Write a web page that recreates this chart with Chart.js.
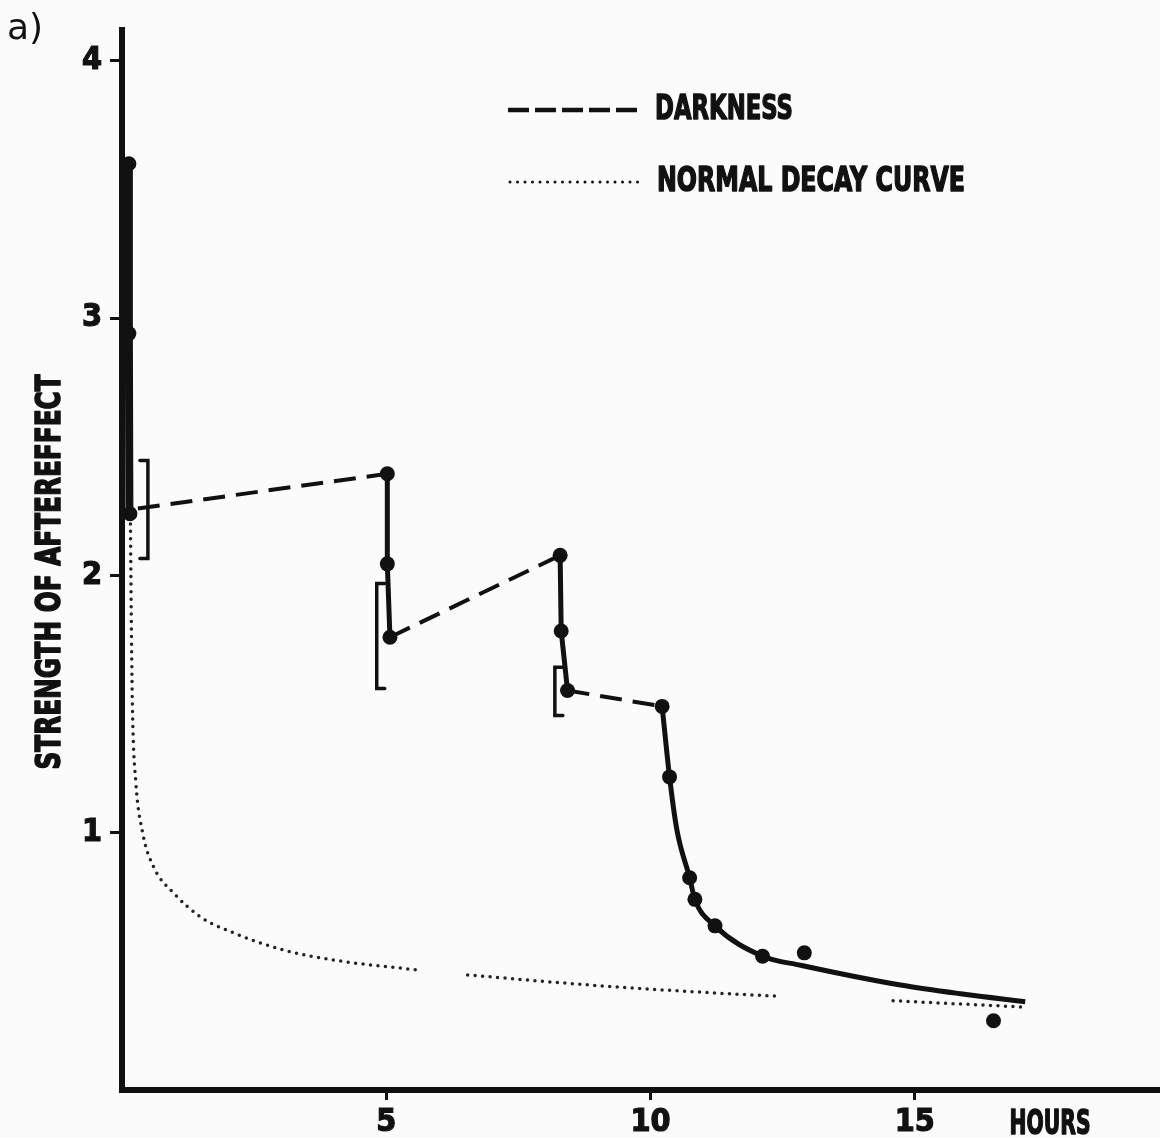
<!DOCTYPE html>
<html>
<head>
    <title>Strength of aftereffect</title>
    <script src="https://cdn.jsdelivr.net/npm/chart.js"></script>
    <style>
        html, body {
            margin: 0;
            padding: 0;
            background: #fbfbfb;
        }
        .chart-box {
            position: relative;
            width: 1160px;
            height: 1138px;
        }
    </style>
</head>
<body>
    <div class="chart-box">
        <canvas id="afterChart" width="1160" height="1138"></canvas>
    </div>

    <script>
        // solid runs (light periods), hours / strength
        const lightSegX = [
            [0.13, 0.13, 0.14],
            [5.02, 5.02, 5.07],
            [8.29, 8.31, 8.43],
            [10.22, 10.36, 10.50, 10.74, 10.84, 11.22, 12.12, 12.84, 14.73, 15.9, 17.09]
        ];
        const lightSegY = [
            [3.60, 2.94, 2.24],
            [2.395, 2.045, 1.76],
            [2.078, 1.784, 1.553],
            [1.491, 1.217, 1.01, 0.825, 0.741, 0.638, 0.520, 0.485, 0.408, 0.373, 0.343]
        ];

        // dashed runs (darkness)
        const darkSegX = [[0.30, 5.02], [5.07, 8.29], [8.43, 10.22]];
        const darkSegY = [[2.26, 2.395], [1.76, 2.078], [1.553, 1.491]];

        // normal decay curve, dotted, with the gaps it has
        const decayRunX = [
            [0.16, 0.18, 0.20, 0.26, 0.39, 0.60, 0.98, 1.49, 2.12, 3.06, 4.01, 5.60],
            [6.54, 9.05, 11.57, 12.46],
            [14.59, 17.09]
        ];
        const decayRunY = [
            [2.20, 1.75, 1.46, 1.20, 1.00, 0.866, 0.765, 0.672, 0.610, 0.544, 0.505, 0.466],
            [0.447, 0.405, 0.373, 0.364],
            [0.347, 0.322]
        ];

        // measured points
        const pointX = [0.13, 0.13, 0.15, 5.02, 5.02, 5.07, 8.29, 8.31, 8.43,
                        10.22, 10.36, 10.74, 10.84, 11.22, 12.12, 12.91, 16.49];
        const pointY = [3.60, 2.94, 2.24, 2.395, 2.045, 1.76, 2.078, 1.784, 1.553,
                        1.491, 1.217, 0.825, 0.741, 0.638, 0.520, 0.533, 0.269];

        // range brackets
        const bracketX = [0.49, 4.82, 8.19];
        const bracketLow = [2.066, 1.561, 1.456];
        const bracketHigh = [2.447, 1.969, 1.643];

        // axes
        const xTickValues = [5, 10, 15];
        const yTickValues = [1, 2, 3, 4];
        const xUnit = 'HOURS';
        const yTitle = 'STRENGTH OF AFTEREFFECT';
        const legendLabels = ['DARKNESS', 'NORMAL DECAY CURVE'];
        const panelTag = 'a)';

        const INK = '#111';
        const NARROW = "'Liberation Sans Narrow', 'DejaVu Sans Condensed', 'Liberation Sans', sans-serif";
        const HEAVY = "'DejaVu Sans', 'Liberation Sans', sans-serif";

        const toPoints = (xs, ys) => xs.map((x, i) => ({ x: x, y: ys[i] }));

        const datasets = [];

        lightSegX.forEach((xs, i) => {
            const isCurve = i === lightSegX.length - 1;
            datasets.push({
                data: toPoints(xs, lightSegY[i]),
                showLine: true,
                borderColor: INK,
                borderWidth: i === 0 ? 8 : 5,
                pointRadius: 0,
                cubicInterpolationMode: isCurve ? 'monotone' : 'default',
                clip: false
            });
        });

        darkSegX.forEach((xs, i) => {
            datasets.push({
                data: toPoints(xs, darkSegY[i]),
                showLine: true,
                borderColor: INK,
                borderWidth: 4,
                borderDash: [22, 11],
                pointRadius: 0,
                clip: false
            });
        });

        decayRunX.forEach((xs, i) => {
            datasets.push({
                data: toPoints(xs, decayRunY[i]),
                showLine: true,
                borderColor: '#222',
                borderWidth: 3.5,
                borderDash: [0, 7.5],
                borderCapStyle: 'round',
                pointRadius: 0,
                cubicInterpolationMode: 'monotone',
                clip: false
            });
        });

        datasets.push({
            data: toPoints(pointX, pointY),
            showLine: false,
            pointRadius: 7.5,
            pointBackgroundColor: INK,
            pointBorderColor: INK,
            pointBorderWidth: 0,
            clip: false
        });

        // heavy caps squeezed to a given width
        function fitText(ctx, text, x, y, width, size, angle, align) {
            ctx.save();
            ctx.font = 'bold ' + size + 'px ' + HEAVY;
            const w = ctx.measureText(text).width;
            ctx.translate(x, y);
            ctx.rotate(angle || 0);
            ctx.scale(width / w, 1);
            ctx.textAlign = align || 'left';
            ctx.textBaseline = 'middle';
            ctx.fillStyle = INK;
            ctx.strokeStyle = INK;
            ctx.lineWidth = 1.6;
            ctx.lineJoin = 'round';
            ctx.strokeText(text, 0, 0);
            ctx.fillText(text, 0, 0);
            ctx.restore();
        }

        const decorations = {
            id: 'decorations',
            afterDatasetsDraw(chart) {
                const ctx = chart.ctx;
                const xs = chart.scales.x;
                const ys = chart.scales.y;
                const area = chart.chartArea;

                // brackets: first opens left, the others right
                const sides = [-1, 1, 1];
                ctx.save();
                ctx.strokeStyle = INK;
                ctx.lineWidth = 3.5;
                ctx.lineCap = 'round';
                bracketX.forEach((bx, i) => {
                    const px = xs.getPixelForValue(bx);
                    const top = ys.getPixelForValue(bracketHigh[i]);
                    const bot = ys.getPixelForValue(bracketLow[i]);
                    const d = -sides[i] * 8;
                    ctx.beginPath();
                    ctx.moveTo(px - d, top);
                    ctx.lineTo(px, top);
                    ctx.lineTo(px, bot);
                    ctx.lineTo(px - d, bot);
                    ctx.stroke();
                });
                ctx.restore();

                // legend
                ctx.save();
                ctx.strokeStyle = INK;
                ctx.lineWidth = 4.5;
                ctx.setLineDash([21, 6]);
                ctx.beginPath();
                ctx.moveTo(508, 110);
                ctx.lineTo(640, 110);
                ctx.stroke();
                ctx.lineWidth = 3;
                ctx.lineCap = 'round';
                ctx.setLineDash([0, 7.5]);
                ctx.beginPath();
                ctx.moveTo(510, 182);
                ctx.lineTo(640, 182);
                ctx.stroke();
                ctx.restore();
                fitText(ctx, legendLabels[0], 655, 110, 138, 34);
                fitText(ctx, legendLabels[1], 657, 182, 308, 34);

                // axis titles
                fitText(ctx, yTitle, 51, 572, 395, 33, -Math.PI / 2, 'center');
                fitText(ctx, xUnit, 1050, area.bottom + 35, 81, 34, 0, 'center');

                // panel tag
                ctx.save();
                ctx.font = '36px "DejaVu Sans", sans-serif';
                ctx.fillStyle = INK;
                ctx.textBaseline = 'alphabetic';
                ctx.fillText(panelTag, 7, 39);
                ctx.restore();
            }
        };

        const tickFont = { family: NARROW, size: 32, weight: 'bold' };

        new Chart(document.getElementById('afterChart'), {
            type: 'scatter',
            data: { datasets: datasets },
            options: {
                responsive: false,
                animation: false,
                layout: {
                    autoPadding: false,
                    padding: { top: 30, right: 0, left: 0, bottom: 0 }
                },
                plugins: {
                    legend: { display: false },
                    tooltip: { enabled: false }
                },
                scales: {
                    x: {
                        type: 'linear',
                        min: 0,
                        max: 19.64,
                        afterBuildTicks: scale => {
                            scale.ticks = xTickValues.map(v => ({ value: v }));
                        },
                        afterFit: scale => { scale.height = 48; },
                        grid: {
                            drawOnChartArea: false,
                            tickLength: 10,
                            tickWidth: 3,
                            tickColor: INK
                        },
                        border: { display: true, width: 6, color: INK },
                        ticks: {
                            color: INK,
                            font: tickFont,
                            textStrokeColor: INK,
                            textStrokeWidth: 1.2,
                            padding: 3,
                            maxRotation: 0,
                            autoSkip: false
                        }
                    },
                    y: {
                        type: 'linear',
                        min: 0,
                        max: 4.12,
                        afterBuildTicks: scale => {
                            scale.ticks = yTickValues.map(v => ({ value: v }));
                        },
                        afterFit: scale => { scale.width = 122; },
                        grid: {
                            drawOnChartArea: false,
                            tickLength: 12,
                            tickWidth: 3,
                            tickColor: INK
                        },
                        border: { display: true, width: 6, color: INK },
                        ticks: {
                            color: INK,
                            font: tickFont,
                            textStrokeColor: INK,
                            textStrokeWidth: 1.2,
                            padding: 8,
                            autoSkip: false
                        }
                    }
                }
            },
            plugins: [decorations]
        });
    </script>
</body>
</html>
